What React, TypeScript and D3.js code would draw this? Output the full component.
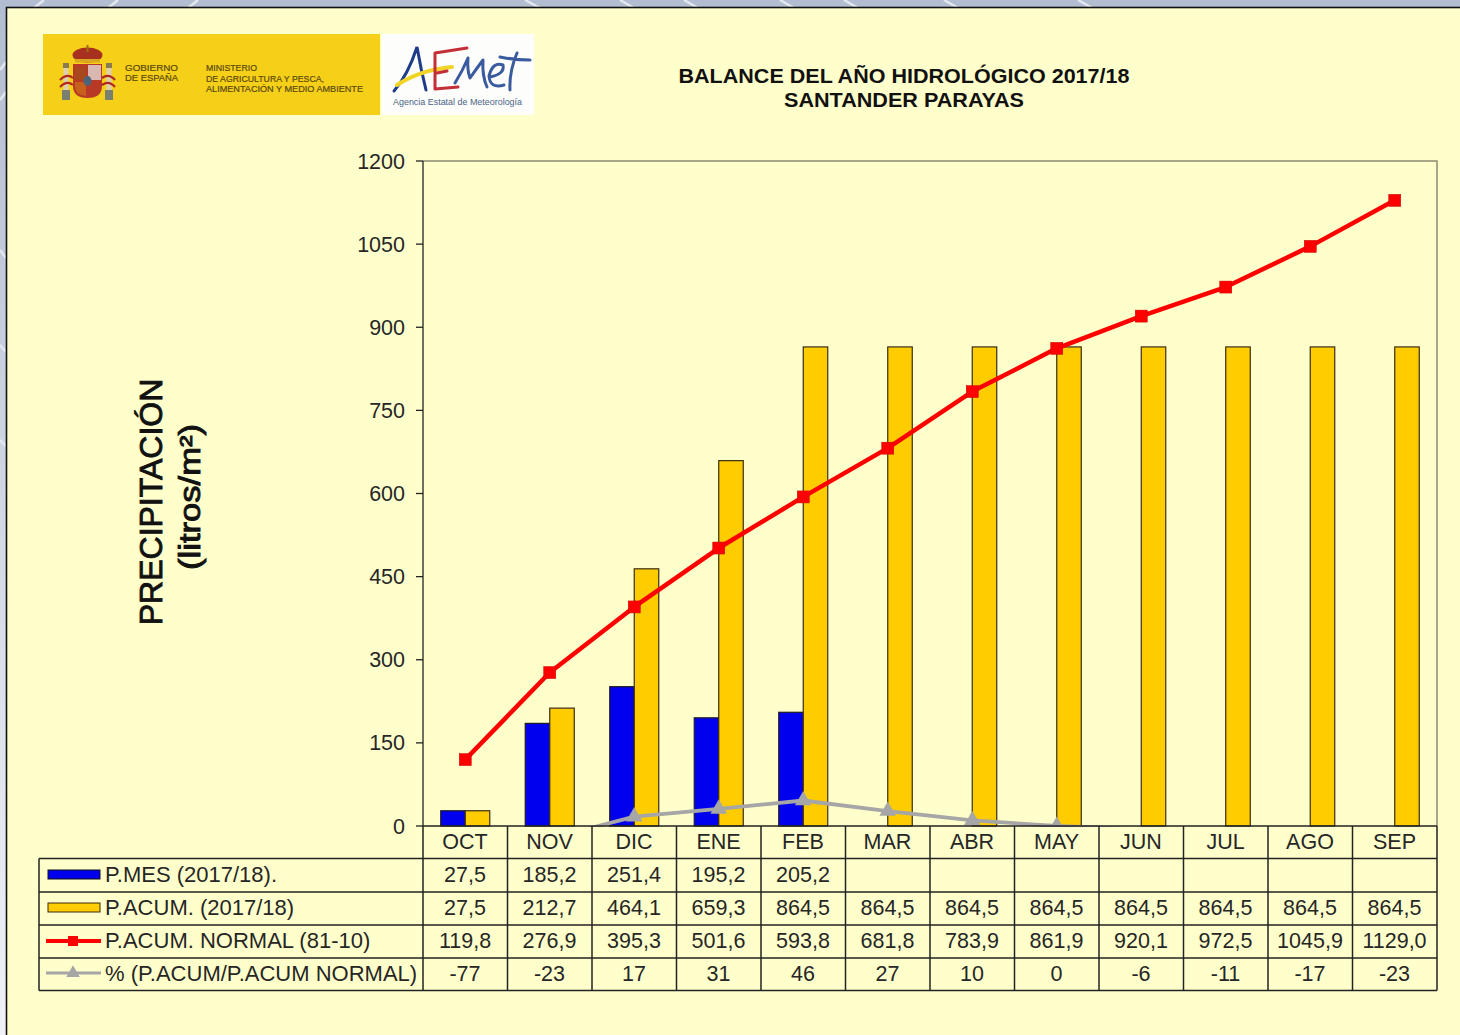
import React from "react";
import * as d3 from "d3";

const months = ["OCT","NOV","DIC","ENE","FEB","MAR","ABR","MAY","JUN","JUL","AGO","SEP"];
const pMes = [27.5,185.2,251.4,195.2,205.2,null,null,null,null,null,null,null];
const pAcum = [27.5,212.7,464.1,659.3,864.5,864.5,864.5,864.5,864.5,864.5,864.5,864.5];
const pNormal = [119.8,276.9,395.3,501.6,593.8,681.8,783.9,861.9,920.1,972.5,1045.9,1129.0];
const pct = [-77,-23,17,31,46,27,10,0,-6,-11,-17,-23];
const yTicks = [0,150,300,450,600,750,900,1050,1200];
const pMesLabels = ["27,5","185,2","251,4","195,2","205,2","","","","","","",""];
const pAcumLabels = ["27,5","212,7","464,1","659,3","864,5","864,5","864,5","864,5","864,5","864,5","864,5","864,5"];
const pNormalLabels = ["119,8","276,9","395,3","501,6","593,8","681,8","783,9","861,9","920,1","972,5","1045,9","1129,0"];
const pctLabels = ["-77","-23","17","31","46","27","10","0","-6","-11","-17","-23"];
const legendNames = ["P.MES (2017/18).","P.ACUM. (2017/18)","P.ACUM. NORMAL (81-10)","% (P.ACUM/P.ACUM NORMAL)"];

const BLUE="#0000ee", GOLD="#ffcc00", RED="#ff0000", GRAY="#a6a6a6", INK="#262626", PANEL="#ffffcc";
const FONT="'Liberation Sans', Arial, sans-serif";
const L=423,R=1437,T=161,B=826,TL=39;
const rowYs=[826,858.5,892,925,958,990.5];

const x=d3.scaleBand<string>().domain(months).range([L,R]).paddingInner(0.42).paddingOuter(0.21);
const sub=d3.scaleBand<string>().domain(["m","a"]).range([0,x.bandwidth()]);
const y=d3.scaleLinear().domain([0,1200]).range([B,T]);
const cx=(m:string)=>(x(m) as number)+x.bandwidth()/2;
const line=d3.line<number>().x((_,i)=>cx(months[i])).y(d=>y(d));
const edges=d3.range(13).map(i=>L+(R-L)*i/12);
const tri=d3.symbol().type(d3.symbolTriangle).size(120)();
const triKey=d3.symbol().type(d3.symbolTriangle).size(80)();

function Logos(){
  return <g>
    <rect x={43} y={34} width={337} height={81} fill="#f6cf18"/>
    <rect x={382} y={34} width={152} height={81} fill="#fdfdfb"/>
    {/* escudo */}
    <path d="M73 64H102V86Q102 98 87.5 98Q73 98 73 86Z" fill="#b83a26"/>
    <rect x={88} y={65} width={13} height={15} fill="#d8b8b0"/>
    <rect x={75} y={67} width={11} height={13} fill="#a8481c"/>
    <path d="M75 82H86V96Q75 95 75 86Z" fill="#c8601c"/>
    <ellipse cx={87.5} cy={81} rx={4} ry={5} fill="#4a6478"/>
    <ellipse cx={87.5} cy={55} rx={15} ry={7.5} fill="#a8301e"/>
    <rect x={75} y={59} width={25} height={3.5} fill="#d9a820"/>
    <rect x={86.5} y={45} width={2} height={7} fill="#a06a10"/>
    <rect x={63} y={63} width={6} height={5} fill="#8a7a50"/>
    <rect x={106} y={63} width={6} height={5} fill="#8a7a50"/>
    <rect x={63.5} y={68} width={5} height={22} fill="#ddd0b0"/>
    <rect x={106.5} y={68} width={5} height={22} fill="#ddd0b0"/>
    <rect x={62} y={90} width={8} height={10} fill="#7a8070"/>
    <rect x={105} y={90} width={8} height={10} fill="#7a8070"/>
    <path d="M60 80Q67 73 73 78M102 78Q109 73 115 80M60 87Q67 80 73 85M102 85Q109 80 115 87" stroke="#b02820" strokeWidth={2.2} fill="none"/>
    <g fontFamily={FONT} fontSize={9} fill="#5a4a10" stroke="#5a4a10" strokeWidth={0.2}>
      <text x={125} y={71} textLength={53} lengthAdjust="spacingAndGlyphs">GOBIERNO</text>
      <text x={125} y={81} textLength={53} lengthAdjust="spacingAndGlyphs">DE ESPAÑA</text>
      <text x={206} y={71} textLength={51} lengthAdjust="spacingAndGlyphs">MINISTERIO</text>
      <text x={206} y={81.5} textLength={118} lengthAdjust="spacingAndGlyphs">DE AGRICULTURA Y PESCA,</text>
      <text x={206} y={92} textLength={157} lengthAdjust="spacingAndGlyphs">ALIMENTACIÓN Y MEDIO AMBIENTE</text>
    </g>
    {/* AEMET */}
    <path d="M394 91Q408 75 417 47Q421 70 426 90" stroke="#1f3c8a" strokeWidth={3} fill="none" strokeLinecap="round"/>
    <path d="M397 85Q420 70 452 67" stroke="#f0d428" strokeWidth={4} fill="none" strokeLinecap="round"/>
    <path d="M467 48L435 53L435 89L458 87M437 73L447 71" stroke="#c42e36" strokeWidth={3} fill="none" strokeLinecap="round" strokeLinejoin="round"/>
    <path d="M455 83Q463 70 468 58Q467 70 470 78Q477 68 483 60Q482 76 487 87" stroke="#3a5c9e" strokeWidth={3} fill="none" strokeLinecap="round" strokeLinejoin="round"/>
    <path d="M490 77Q505 74 503 65Q493 61 489 76Q490 89 504 85" stroke="#3a5c9e" strokeWidth={3} fill="none" strokeLinecap="round"/>
    <path d="M517 53Q509 72 510 90M500 57Q515 60 530 60" stroke="#3a5c9e" strokeWidth={3} fill="none" strokeLinecap="round"/>
    <text x={393} y={105} fontFamily={FONT} fontSize={9.5} fill="#4a6488" textLength={129} lengthAdjust="spacingAndGlyphs">Agencia Estatal de Meteorología</text>
  </g>;
}

const topStreaks=[[44,0,34,8],[118,0,108,8],[198,0,188,8],[525,0,540,8],[620,0,634,8],[684,0,698,8],[780,0,794,8],[844,0,858,8],[944,0,958,8],[1078,0,1092,8]];
const leftStreaks=[[0,70,6,62],[0,100,6,92],[0,250,6,258],[0,345,6,352],[0,440,6,446]];

export default function App(){
  return <svg width={1460} height={1035} viewBox="0 0 1460 1035" style={{position:"fixed",left:0,top:0,display:"block"}}>
    <defs>
      <linearGradient id="bg" x1="0" y1="0" x2="0" y2="1">
        <stop offset="0" stopColor="#b3bdd1"/><stop offset="1" stopColor="#f0f2f7"/>
      </linearGradient>
      <clipPath id="plot"><rect x={L} y={T} width={R-L} height={B-T+1}/></clipPath>
    </defs>
    <rect width={1460} height={1035} fill="url(#bg)"/>
    {[...topStreaks,...leftStreaks].map((s,i)=><line key={i} x1={s[0]} y1={s[1]} x2={s[2]} y2={s[3]} stroke="#e4e9f1" strokeWidth={2.5}/>)}
    <rect x={6.5} y={7.5} width={1470} height={1050} fill={PANEL} stroke="#111" strokeWidth={1.6}/>
    <Logos/>
    <g fontFamily={FONT} fontWeight={700} fontSize={20.5} fill="#111" textAnchor="middle">
      <text x={904} y={83} textLength={451} lengthAdjust="spacingAndGlyphs">BALANCE DEL AÑO HIDROLÓGICO 2017/18</text>
      <text x={904} y={107} textLength={240} lengthAdjust="spacingAndGlyphs">SANTANDER PARAYAS</text>
    </g>
    <g fontFamily={FONT} fill="#111" textAnchor="middle" stroke="#111" strokeWidth={0.9}>
      <text transform="translate(162,502) rotate(-90)" fontSize={32}>PRECIPITACIÓN</text>
      <text transform="translate(200,497) rotate(-90)" fontSize={29} textLength={146} lengthAdjust="spacingAndGlyphs">(litros/m²)</text>
    </g>

    {/* plot frame */}
    <path d={`M${L} ${T}H${R}V${B}`} fill="none" stroke="#8a8a70" strokeWidth={1.5}/>
    <path d={`M${L} ${T}V${B}`} stroke="#222" strokeWidth={1.3}/>
    {yTicks.map(t=><g key={t}>
      <line x1={L-7} x2={L} y1={y(t)} y2={y(t)} stroke="#222" strokeWidth={1.3}/>
      <text x={405} y={y(t)+7.5} fontFamily={FONT} fontSize={21.5} fill={INK} textAnchor="end">{t}</text>
    </g>)}

    {/* bars */}
    {months.map((m,i)=><g key={m}>
      {pMes[i]!=null && <rect x={(x(m) as number)+(sub("m") as number)} y={y(pMes[i] as number)} width={sub.bandwidth()} height={B-y(pMes[i] as number)} fill={BLUE} stroke="#201a20" strokeWidth={1.2}/>}
      <rect x={(x(m) as number)+(sub("a") as number)} y={y(pAcum[i])} width={sub.bandwidth()} height={B-y(pAcum[i])} fill={GOLD} stroke="#3a2c14" strokeWidth={1.2}/>
    </g>)}

    {/* percent series: values below the axis fall outside the plot and are clipped */}
    <g clipPath="url(#plot)">
      <path d={line(pct) as string} fill="none" stroke={GRAY} strokeWidth={3.8}/>
      {months.map((m,i)=>pct[i]>=0 ? <path key={m} d={tri as string} transform={`translate(${cx(m)},${y(pct[i])})`} fill={GRAY}/> : null)}
    </g>
    {/* normal series */}
    <path d={line(pNormal) as string} fill="none" stroke={RED} strokeWidth={4.5} strokeLinejoin="round"/>
    {months.map((m,i)=><rect key={m} x={cx(m)-6} y={y(pNormal[i])-6} width={12} height={12} fill={RED} stroke="#cc0000" strokeWidth={0.5}/>)}

    {/* data table */}
    <g stroke="#222" strokeWidth={1.5} fill="none">
      <line x1={L} x2={R} y1={rowYs[0]} y2={rowYs[0]}/>
      {rowYs.slice(1).map(v=><line key={v} x1={TL} x2={R} y1={v} y2={v}/>)}
      {edges.map(e=><line key={e} x1={e} x2={e} y1={B} y2={rowYs[5]}/>)}
      <line x1={TL} x2={TL} y1={rowYs[1]} y2={rowYs[5]}/>
    </g>
    <g fontFamily={FONT} fontSize={21.5} fill={INK} textAnchor="middle">
      {months.map((m,i)=><g key={m}>
        <text x={edges[i]+42} y={849}>{m}</text>
        <text x={edges[i]+42} y={881.5}>{pMesLabels[i]}</text>
        <text x={edges[i]+42} y={915}>{pAcumLabels[i]}</text>
        <text x={edges[i]+42} y={948}>{pNormalLabels[i]}</text>
        <text x={edges[i]+42} y={981}>{pctLabels[i]}</text>
      </g>)}
    </g>
    {/* legend keys */}
    <rect x={48} y={870} width={52} height={9} fill={BLUE} stroke="#111" strokeWidth={1}/>
    <rect x={48} y={903} width={52} height={9} fill={GOLD} stroke="#3a2a10" strokeWidth={1}/>
    <line x1={46} x2={101} y1={941} y2={941} stroke={RED} strokeWidth={4}/>
    <rect x={68} y={936} width={10} height={10} fill={RED}/>
    <line x1={46} x2={101} y1={973} y2={973} stroke={GRAY} strokeWidth={3}/>
    <path d={triKey as string} transform="translate(73,973)" fill={GRAY}/>
    <g fontFamily={FONT} fontSize={22} fill={INK}>
      <text x={105} y={881.5}>{legendNames[0]}</text>
      <text x={105} y={915}>{legendNames[1]}</text>
      <text x={105} y={948}>{legendNames[2]}</text>
      <text x={105} y={981}>{legendNames[3]}</text>
    </g>
  </svg>;
}
